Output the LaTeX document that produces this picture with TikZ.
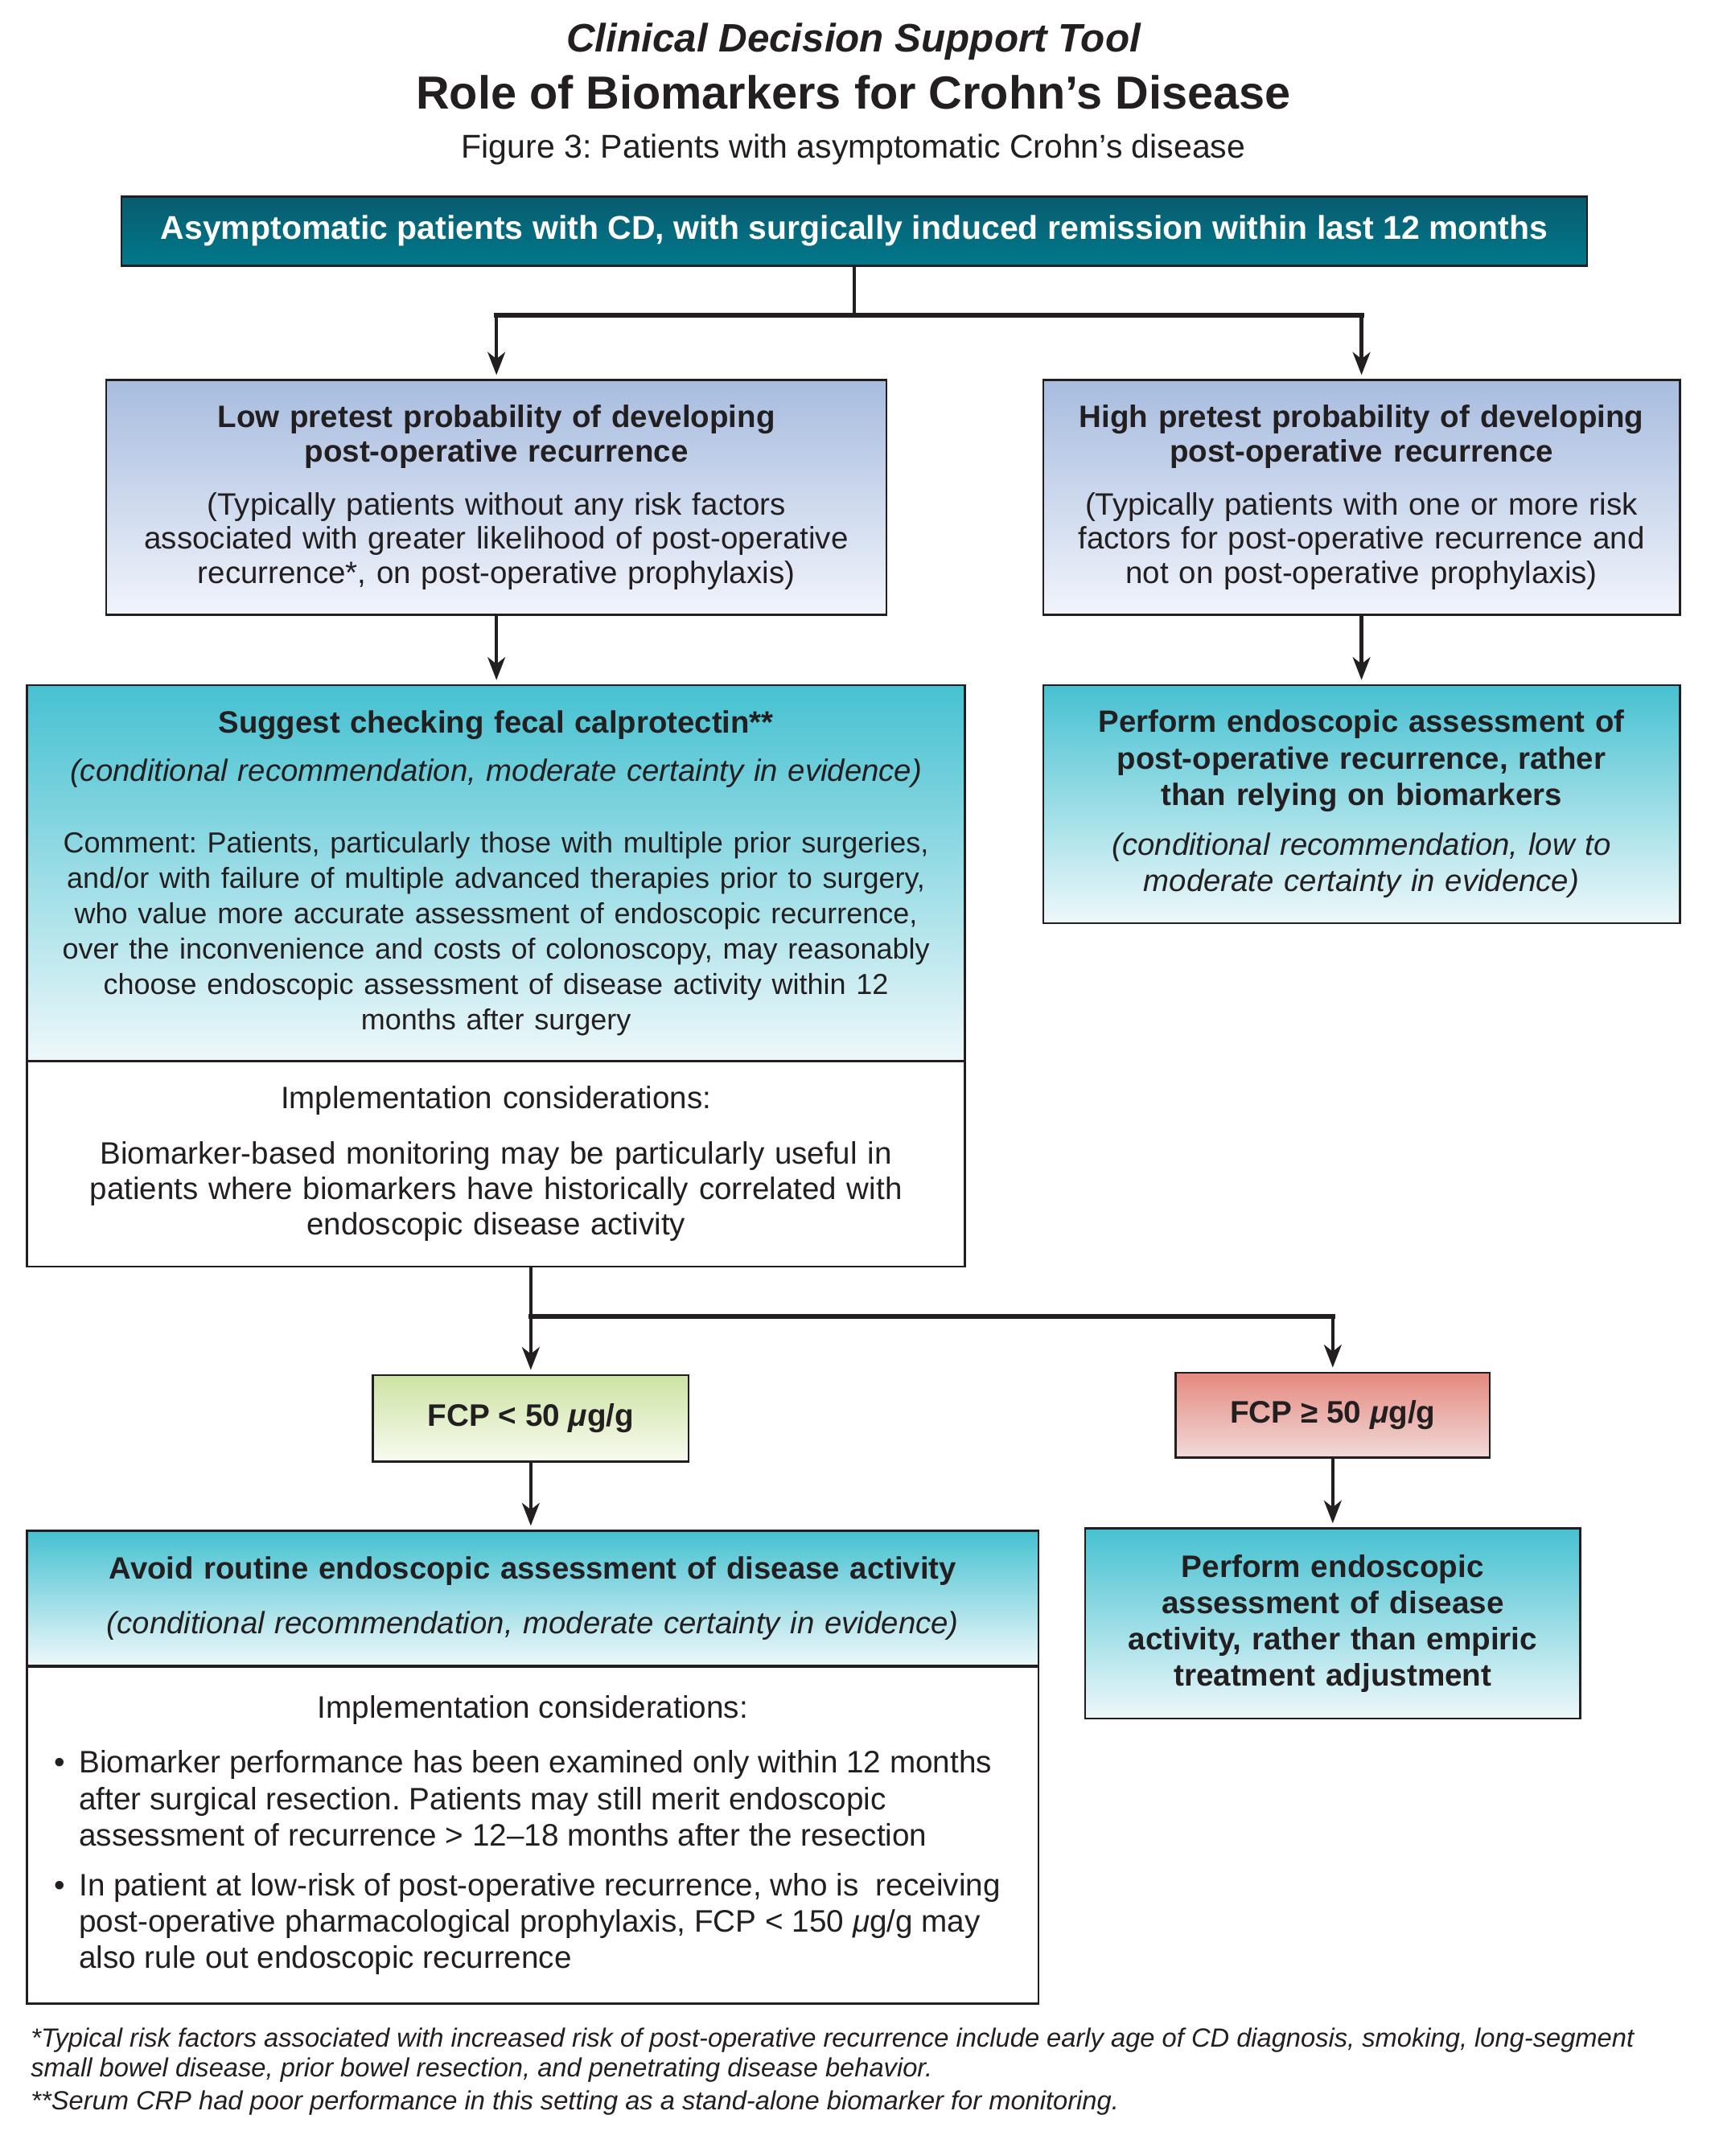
\documentclass[tikz,border=0pt]{standalone}
\usepackage{fontspec}
\setmainfont{Liberation Sans}
\frenchspacing
\usetikzlibrary{arrows.meta}
\definecolor{txt}{HTML}{231F20}
\definecolor{edge}{HTML}{231F20}
\definecolor{navyT}{HTML}{0A5B6F}
\definecolor{navyB}{HTML}{00798B}
\definecolor{blueT}{HTML}{A7BCDF}
\definecolor{blueB}{HTML}{F1F4FB}
\definecolor{tealT}{HTML}{46C1D1}
\definecolor{tealB}{HTML}{EEF8FA}
\definecolor{greenT}{HTML}{CDE3A2}
\definecolor{greenB}{HTML}{F7FBF0}
\definecolor{redT}{HTML}{E5897F}
\definecolor{redB}{HTML}{F1DAD9}
\begin{document}
\begin{tikzpicture}[x=0.2979pt,y=-0.2979pt,
  box/.style={draw=edge, line width=0.8pt, rectangle, inner sep=0pt, align=center, text=txt},
  navybox/.style={box, top color=navyT, bottom color=navyB, text=white},
  bluebox/.style={box, top color=blueT, bottom color=blueB},
  tealbox/.style={box, top color=tealT, bottom color=tealB},
  greenbox/.style={box, top color=greenT, bottom color=greenB},
  redbox/.style={box, top color=redT, bottom color=redB},
  whitebox/.style={box, fill=white},
  arr/.style={-{Stealth[length=8.5pt,width=6.5pt,inset=2.5pt]}, line width=1.4pt, draw=edge, shorten >=1.5pt},
  vline/.style={line width=1.4pt, draw=edge},
  hbar/.style={line width=1.8pt, draw=edge, line cap=rect},
  note/.style={anchor=base west, inner sep=0pt, text=txt, font=\fontsize{9.8}{11.3}\selectfont\itshape}
]
\useasboundingbox (0,0) rectangle (2152.06,2699.9);
\fill[white] (0,0) rectangle (2152.06,2699.9);

% titles
\node[anchor=base, inner sep=0pt, text=txt, font=\fontsize{14.8}{17}\selectfont\bfseries\itshape] (t1) at (1068.5,65) {Clinical Decision Support Tool};
\node[anchor=base, inner sep=0pt, text=txt, font=\fontsize{17.3}{20}\selectfont\bfseries] (t2) at (1068.5,136) {Role of Biomarkers for Crohn’s Disease};
\node[anchor=base, inner sep=0pt, text=txt, font=\fontsize{12.3}{14}\selectfont] (t3) at (1068.5,198) {Figure 3: Patients with asymptomatic Crohn’s disease};

% boxes
\node[navybox, minimum width=546.6pt, minimum height=25.9pt, font=\fontsize{12.3}{14}\selectfont\bfseries] (top) at (1069.5,289.5)
  {Asymptomatic patients with CD, with surgically induced remission within last 12 months};

\node[bluebox, minimum width=291pt, minimum height=87.6pt, text width=285pt, font=\fontsize{11.55}{12.7}\selectfont] (low) at (621.5,623)
  {{\bfseries Low pretest probability of developing\\post-operative recurrence}\\[7.2pt]
   (Typically patients without any risk factors\\associated with greater likelihood of post-operative\\recurrence*, on post-operative prophylaxis)};

\node[bluebox, minimum width=237.4pt, minimum height=87.6pt, text width=232pt, font=\fontsize{11.55}{12.7}\selectfont] (high) at (1704.5,623)
  {{\bfseries High pretest probability of developing\\post-operative recurrence}\\[7.2pt]
   (Typically patients with one or more risk\\factors for post-operative recurrence and\\not on post-operative prophylaxis)};

\node[tealbox, minimum width=349.7pt, minimum height=140.3pt, text width=345pt, font=\fontsize{11.5}{13.2}\selectfont] (fecalt) at (621,1093.5)
  {{\bfseries Suggest checking fecal calprotectin**}\\[4.8pt]
   {\itshape (conditional recommendation, moderate certainty in evidence)}\\[13.4pt]
   {\fontsize{10.8}{13.2}\selectfont
   Comment: Patients, particularly those with multiple prior surgeries,\\
   and/or with failure of multiple advanced therapies prior to surgery,\\
   who value more accurate assessment of endoscopic recurrence,\\
   over the inconvenience and costs of colonoscopy, may reasonably\\
   choose endoscopic assessment of disease activity within 12\\
   months after surgery}};

\node[whitebox, minimum width=349.7pt, minimum height=76.6pt, text width=345pt, font=\fontsize{11.55}{13.2}\selectfont] (fecalb) at (621,1457.5)
  {Implementation considerations:\\[7.4pt]
   Biomarker-based monitoring may be particularly useful in\\
   patients where biomarkers have historically correlated with\\
   endoscopic disease activity};

\node[tealbox, minimum width=237.4pt, minimum height=88.8pt, text width=232pt, font=\fontsize{11.5}{13.6}\selectfont] (perf1) at (1704.5,1007)
  {{\bfseries Perform endoscopic assessment of\\post-operative recurrence, rather\\than relying on biomarkers}\\[5pt]
   {\itshape (conditional recommendation, low to\\moderate certainty in evidence)}};

\node[greenbox, minimum width=117.7pt, minimum height=32.2pt, font=\fontsize{11.6}{13.2}\selectfont\bfseries] (fcplow) at (664.5,1776)
  {FCP < 50 \textit{μ}g/g};

\node[redbox, minimum width=117.1pt, minimum height=31.6pt, font=\fontsize{11.6}{13.2}\selectfont\bfseries] (fcphigh) at (1668.5,1772)
  {FCP ≥ 50 \textit{μ}g/g};

\node[tealbox, minimum width=377.1pt, minimum height=50.3pt, text width=372pt, font=\fontsize{11.5}{13.6}\selectfont] (avoidt) at (667,2001.5)
  {{\bfseries Avoid routine endoscopic assessment of disease activity}\\[7pt]
   {\itshape (conditional recommendation, moderate certainty in evidence)}};

\node[whitebox, minimum width=377.1pt, minimum height=125.7pt, font=\fontsize{11.6}{13.6}\selectfont] (avoidb) at (667,2298)
  {\begin{minipage}{361pt}
   {\centering Implementation considerations:\par}
   \vspace{7pt}
   \raggedright\leftskip=2pt
   \hangindent=9.3pt\hangafter=1\noindent\makebox[9.3pt][l]{•}Biomarker performance has been examined only within 12 months\newline
   after surgical resection. Patients may still merit endoscopic\newline
   assessment of recurrence > 12–18 months after the resection\par
   \vspace{4.9pt}
   \hangindent=9.3pt\hangafter=1\noindent\makebox[9.3pt][l]{•}In patient at low-risk of post-operative recurrence, who is\ \ receiving\newline
   post-operative pharmacological prophylaxis, FCP < 150 \textit{μ}g/g may\newline
   also rule out endoscopic recurrence\par
   \end{minipage}};

\node[tealbox, minimum width=184.7pt, minimum height=70.9pt, text width=180pt, font=\fontsize{11.6}{13.5}\selectfont\bfseries] (perf2) at (1668.5,2033)
  {Perform endoscopic\\assessment of disease\\activity, rather than empiric\\treatment adjustment};

% connectors
\coordinate (j1) at (1069.5,395);
\draw[vline] (top.south) -- (j1);
\draw[hbar] (j1 -| low.north) -- (j1 -| high.north);
\draw[arr] (j1 -| low.north) -- (low.north);
\draw[arr] (j1 -| high.north) -- (high.north);
\draw[arr] (low.south) -- (low.south |- fecalt.north);
\draw[arr] (high.south) -- (perf1.north);

\coordinate (j2) at (664.5,1649);
\draw[vline] (fcplow.north |- fecalb.south) -- (j2);
\draw[hbar] (j2) -- (j2 -| fcphigh.north);
\draw[arr] (j2) -- (fcplow.north);
\draw[arr] (j2 -| fcphigh.north) -- (fcphigh.north);
\draw[arr] (fcplow.south) -- (fcplow.south |- avoidt.north);
\draw[arr] (fcphigh.south) -- (perf2.north);

% footnotes
\node[note] (n1) at (38,2563) {*Typical risk factors associated with increased risk of post-operative recurrence include early age of CD diagnosis, smoking, long-segment};
\node[note] (n2) at (38,2601) {small bowel disease, prior bowel resection, and penetrating disease behavior.};
\node[note] (n3) at (38,2642) {**Serum CRP had poor performance in this setting as a stand-alone biomarker for monitoring.};
\end{tikzpicture}
\end{document}
